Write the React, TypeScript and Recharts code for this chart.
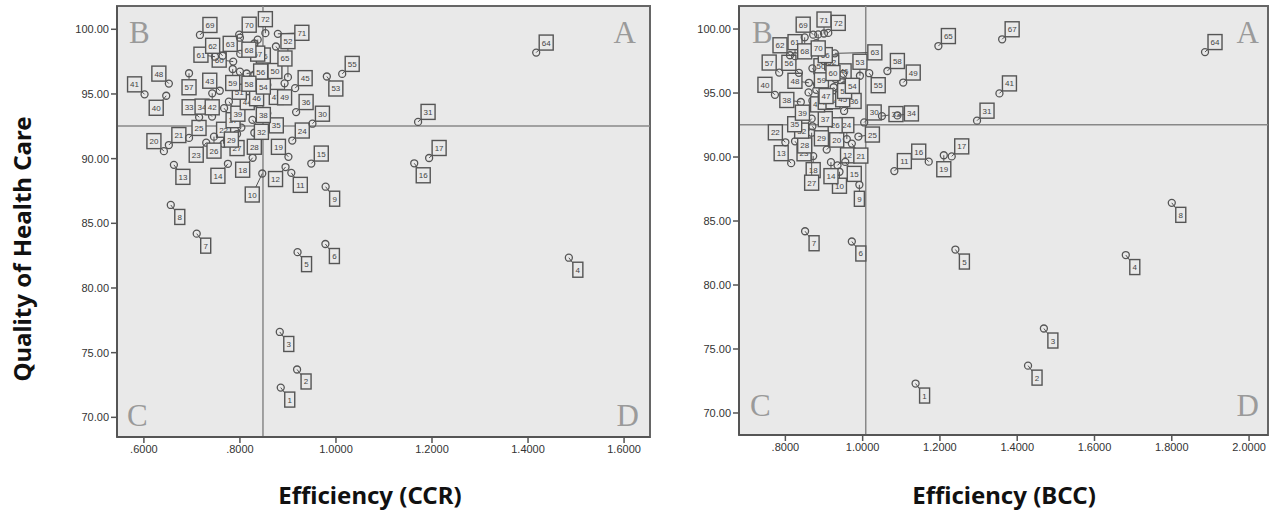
import React from 'react';
import { ScatterChart, Scatter, XAxis, YAxis, ReferenceLine, ReferenceArea } from 'recharts';

// DMU identifiers
const dmuIds = [
  1, 2, 3, 4, 5, 6, 7, 8, 9, 10, 11, 12, 13, 14, 15, 16, 17, 18, 19, 20,
  21, 22, 23, 24, 25, 26, 27, 28, 29, 30, 31, 32, 33, 34, 35, 36, 37, 38, 39, 40,
  41, 42, 43, 44, 45, 46, 47, 48, 49, 50, 51, 52, 53, 54, 55, 56, 57, 58, 59, 60,
  61, 62, 63, 64, 65, 66, 67, 68, 69, 70, 71, 72,
];

// Quality of Health Care (shared by both panels)
const quality = [
  72.3, 73.7, 76.6, 82.34, 82.77, 83.4, 84.2, 86.42, 87.83, 88.85,
  88.9, 89.35, 89.52, 89.6, 89.62, 89.64, 90.05, 90.07, 90.14, 90.58,
  91.05, 91.15, 91.23, 91.4, 91.6, 91.7, 91.9, 92.0, 92.4, 92.7,
  92.84, 93.0, 93.2, 93.25, 93.5, 93.6, 93.9, 94.3, 94.4, 94.86,
  94.97, 95.05, 95.25, 95.3, 95.45, 95.6, 95.7, 95.8, 95.82, 96.0,
  96.1, 96.3, 96.35, 96.5, 96.55, 96.58, 96.6, 96.72, 96.93, 97.5,
  97.88, 97.95, 98.1, 98.2, 98.67, 98.9, 99.2, 99.35, 99.56, 99.58,
  99.65, 99.7,
];

// Efficiency (CCR)
const effCCR = [
  0.885, 0.919, 0.883, 1.485, 0.92, 0.978, 0.71, 0.656, 0.9785, 0.8465,
  0.907, 0.895, 0.6625, 0.775, 0.9486, 1.163, 1.194, 0.8265, 0.901, 0.6417,
  0.652, 0.766, 0.7298, 0.909, 0.694, 0.746, 0.794, 0.83, 0.803, 0.951,
  1.171, 0.826, 0.715, 0.742, 0.857, 0.917, 0.767, 0.83, 0.777, 0.6465,
  0.6014, 0.7423, 0.758, 0.7965, 0.915, 0.816, 0.857, 0.652, 0.893, 0.852,
  0.78, 0.9, 0.981, 0.83, 1.013, 0.814, 0.694, 0.8, 0.785, 0.786,
  0.748, 0.764, 0.8006, 1.417, 0.875, 0.83, 0.837, 0.8, 0.7167, 0.7985,
  0.879, 0.853,
];

// Efficiency (BCC)
const effBCC = [
  1.137, 1.428, 1.469, 1.681, 1.24, 0.972, 0.851, 1.8, 0.9915, 0.94,
  1.082, 0.935, 0.815, 0.918, 0.955, 1.171, 1.2305, 0.872, 1.21, 0.907,
  0.972, 0.8, 0.825, 0.959, 0.989, 0.903, 0.868, 0.85, 0.87, 1.004,
  1.296, 0.868, 1.05, 1.09, 0.85, 0.952, 0.88, 0.84, 0.87, 0.773,
  1.354, 0.86, 0.88, 0.9, 0.925, 0.952, 0.882, 0.861, 1.105, 0.892,
  0.93, 0.92, 0.993, 0.95, 1.017, 0.835, 0.784, 1.064, 0.87, 0.9,
  0.825, 0.812, 0.928, 1.886, 1.196, 0.88, 1.361, 0.85, 0.872, 0.885,
  0.9, 0.911,
];

// label box side relative to its point
const sideCCR = [
  'dr', 'dr', 'dr', 'dr', 'dr', 'dr', 'dr', 'dr', 'dr', 'ddl',
  'dr', 'dl', 'dr', 'dl', 'ur', 'dr', 'ur', 'dl', 'ul', 'ul',
  'ur', 'u', 'dl', 'ur', 'ur', 'd', 'd', 'd', 'dl', 'ur',
  'ur', 'dr', 'ul', 'ul', 'dr', 'ur', 'dr', 'dr', 'dr', 'dl',
  'ul', 'd', 'ul', 'dr', 'ur', 'dr', 'dr', 'ul', 'd', 'ur',
  'dr', 'uu', 'dr', 'dr', 'ur', 'r', 'd', 'dr', 'd', 'l',
  'l', 'ul', 'ul', 'ur', 'dr', 'dr', 'd', 'dr', 'ur', 'ur',
  'rr', 'u',
];
const sideBCC = [
  'dr', 'dr', 'dr', 'dr', 'dr', 'dr', 'dr', 'dr', 'd', 'd',
  'ur', 'ur', 'ul', 'd', 'dr', 'ul', 'ur', 'd', 'd', 'ur',
  'dr', 'ul', 'dr', 'u', 'r', 'ur', 'dd', 'd', 'dr', 'ur',
  'ur', 'dl', 'r', 'r', 'dl', 'ur', 'dr', 'l', 'dl', 'ul',
  'ur', 'dr', 'dr', 'dr', 'dr', 'u', 'dr', 'l', 'ur', 'u',
  'dr', 'u', 'u', 'dr', 'dr', 'ul', 'ul', 'ur', 'dr', 'dr',
  'u', 'ul', 'rrr', 'ur', 'ur', 'dr', 'ur', 'd', 'ul', 'd',
  'u', 'ur',
];

const qTicks = [70, 75, 80, 85, 90, 95, 100];
const ccrTicks = [0.6, 0.8, 1.0, 1.2, 1.4, 1.6];
const bccTicks = [0.8, 1.0, 1.2, 1.4, 1.6, 1.8, 2.0];
const meanQuality = 92.53;
const meanCCR = 0.848;
const meanBCC = 1.008;

const ccrData = dmuIds.map((id, i) => ({ id, x: effCCR[i], y: quality[i], side: sideCCR[i] }));
const bccData = dmuIds.map((id, i) => ({ id, x: effBCC[i], y: quality[i], side: sideBCC[i] }));

const OFF: Record<string, [number, number]> = {
  dr: [9, 12], ur: [10, -10], ul: [-10, -10], dl: [-10, 12],
  u: [0, -14], d: [0, 14], r: [14, -2], l: [-14, -2],
  uu: [0, -36], dd: [0, 50], rr: [24, -1], rrr: [40, -1], ddl: [-10, 21],
};

const BG = '#e9e9e9';
const INK = '#555';

const PointShape = (props: any) => {
  const { cx, cy, payload } = props;
  if (cx == null || cy == null) return <g />;
  const [dx, dy] = OFF[payload.side] || OFF.dr;
  const id = String(payload.id);
  const w = id.length > 1 ? 14 : 10;
  const h = 15;
  const bx = cx + dx;
  const by = cy + dy;
  return (
    <g>
      <line x1={cx} y1={cy} x2={bx} y2={by} stroke={INK} strokeWidth={1} />
      <circle cx={cx} cy={cy} r={3.5} fill="none" stroke={INK} strokeWidth={1.3} />
      <rect x={bx - w / 2} y={by - h / 2} width={w} height={h} fill={BG} stroke={INK} strokeWidth={1.4} />
      <text x={bx} y={by + 3} fontSize={8} textAnchor="middle" fill="#444" fontFamily="Liberation Sans, Arial">{id}</text>
    </g>
  );
};

const fmtEff = (v: number) => {
  const s = v.toFixed(4);
  return v < 1 ? s.replace(/^0/, '') : s;
};
const fmtQ = (v: number) => v.toFixed(2);

const tickStyle = { fontSize: 11, fill: '#333', fontFamily: 'Liberation Sans, Arial' };

type PanelProps = {
  data: any[];
  xDomain: [number, number];
  yDomain: [number, number];
  xTicks: number[];
  meanX: number;
  width: number;
  height: number;
  margin: any;
  yWidth: number;
};

const Panel = ({ data, xDomain, yDomain, xTicks, meanX, width, height, margin, yWidth }: PanelProps) => (
  <ScatterChart width={width} height={height} margin={margin}>
    <XAxis
      type="number"
      dataKey="x"
      domain={xDomain}
      ticks={xTicks}
      allowDataOverflow
      tickFormatter={fmtEff}
      tick={tickStyle}
      tickSize={6}
      tickMargin={2}
      height={30}
      axisLine={{ stroke: INK, strokeWidth: 2 }}
      tickLine={{ stroke: INK, strokeWidth: 1.5 }}
    />
    <YAxis
      type="number"
      dataKey="y"
      domain={yDomain}
      ticks={qTicks}
      allowDataOverflow
      tickFormatter={fmtQ}
      tick={tickStyle}
      tickSize={6}
      tickMargin={2}
      width={yWidth}
      axisLine={{ stroke: INK, strokeWidth: 2 }}
      tickLine={{ stroke: INK, strokeWidth: 1.5 }}
    />
    <ReferenceArea
      x1={xDomain[0]}
      x2={xDomain[1]}
      y1={yDomain[0]}
      y2={yDomain[1]}
      fill={BG}
      fillOpacity={1}
      stroke="#666"
      strokeWidth={2}
      ifOverflow="visible"
    />
    <ReferenceLine x={meanX} stroke="#888" strokeWidth={1.5} />
    <ReferenceLine y={meanQuality} stroke="#888" strokeWidth={1.5} />
    <Scatter data={data} shape={PointShape} isAnimationActive={false} />
  </ScatterChart>
);

const letter = { fontFamily: 'Liberation Serif, Times New Roman, serif', fontSize: 31, fill: '#9a9a9a' } as const;
const title = { fontFamily: 'Noto Sans, Open Sans, sans-serif', fontSize: 24, fontWeight: 700, fill: '#111' } as const;

export default function App() {
  return (
    <div style={{ position: 'absolute', left: 0, top: 0, width: 1272, height: 520, background: '#fff', overflow: 'hidden' }}>
      <div style={{ position: 'absolute', left: 0, top: 0 }}>
        <Panel
          data={ccrData}
          xDomain={[0.544, 1.654]}
          yDomain={[68.48, 101.8]}
          xTicks={ccrTicks}
          meanX={meanCCR}
          width={660}
          height={470}
          margin={{ top: 6, right: 10, bottom: 3, left: 0 }}
          yWidth={117}
        />
      </div>
      <div style={{ position: 'absolute', left: 680, top: 0 }}>
        <Panel
          data={bccData}
          xDomain={[0.68, 2.049]}
          yDomain={[68.28, 101.8]}
          xTicks={bccTicks}
          meanX={meanBCC}
          width={592}
          height={470}
          margin={{ top: 6, right: 4, bottom: 5, left: 0 }}
          yWidth={59}
        />
      </div>
      <svg width={1272} height={520} style={{ position: 'absolute', left: 0, top: 0, pointerEvents: 'none' }}>
        <text x={129} y={43} {...letter}>B</text>
        <text x={636} y={43} textAnchor="end" {...letter}>A</text>
        <text x={127} y={426} {...letter}>C</text>
        <text x={639} y={426} textAnchor="end" {...letter}>D</text>
        <text x={752} y={43} {...letter}>B</text>
        <text x={1259} y={43} textAnchor="end" {...letter}>A</text>
        <text x={750} y={416} {...letter}>C</text>
        <text x={1259} y={416} textAnchor="end" {...letter}>D</text>
        <text transform="translate(31,249) rotate(-90)" textAnchor="middle" {...title}>Quality of Health Care</text>
        <text x={370} y={504} textAnchor="middle" {...title}>Efficiency (CCR)</text>
        <text x={1004} y={504} textAnchor="middle" {...title}>Efficiency (BCC)</text>
      </svg>
    </div>
  );
}
